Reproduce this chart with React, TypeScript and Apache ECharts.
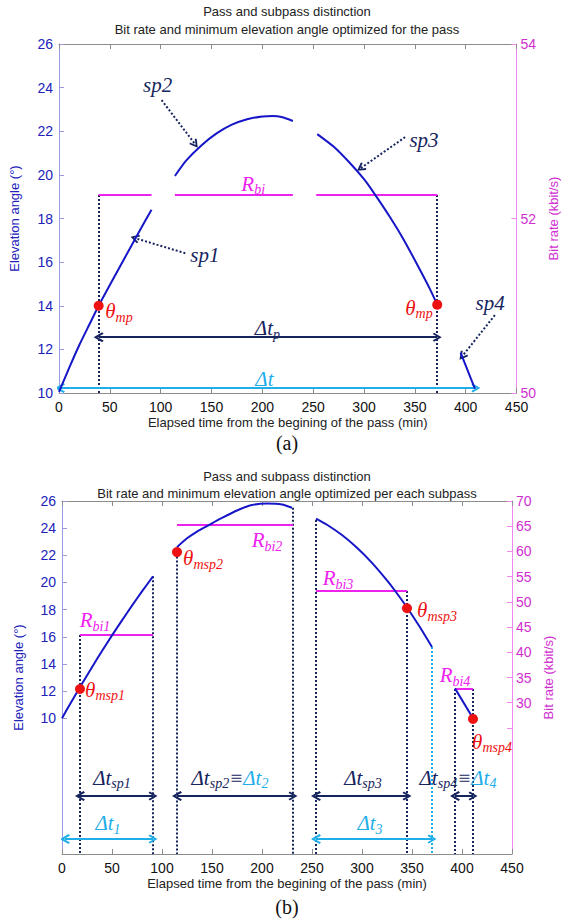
import React, { useEffect, useRef } from 'react';
import * as echarts from 'echarts';

// ---------- Panel (a): optimized for the pass ----------
const aSp1 = [[0, 10.05], [10, 11.15], [20, 12.2], [30, 13.15], [39, 14.0], [50, 14.95], [60, 15.8], [70, 16.65], [80, 17.5], [91, 18.4]];
const aSp2 = [[114, 19.95], [125, 20.65], [140, 21.35], [155, 21.9], [170, 22.3], [185, 22.55], [200, 22.68], [210, 22.7], [220, 22.64], [230, 22.47]];
const aSp3 = [[254, 21.87], [270, 21.3], [285, 20.6], [300, 19.8], [310, 19.15], [325, 18.1], [340, 16.95], [355, 15.65], [365, 14.75], [372, 14.05]];
const aSp4 = [[395, 11.85], [409, 10.2]];
const aRbiValue = 52.27;
const aRbiSegments = [[39, 91], [114, 230], [253, 372]];
const aThetaMp = [[39, 14.0], [372, 14.05]];
const aVerticals = [39, 372];
const aDeltaTp = [[39, 12.56], [372, 12.56]];
const aDeltaT = [[1, 10.23], [410, 10.23]];
const aPointers = [
  [[100.9, 23.43], [133.8, 21.41]],
  [[124.2, 16.41], [74.7, 17.1]],
  [[340.4, 21.73], [296.8, 20.31]],
  [[428.7, 13.57], [396.7, 11.69]],
];
const aLabels = [
  { at: [97, 24.12], text: '{n|sp2}' },
  { at: [143.5, 16.32], text: '{n|sp1}' },
  { at: [359, 21.6], text: '{n|sp3}' },
  { at: [424, 14.12], text: '{n|sp4}' },
  { at: [191, 19.6], text: '{m|R}{ms|bi}' },
  { at: [59, 13.75], text: '{r|θ}{rs|mp}' },
  { at: [354, 13.9], text: '{r|θ}{rs|mp}' },
  { at: [205, 12.97], text: '{n|Δt}{ns|p}' },
  { at: [202, 10.65], text: '{c|Δt}' },
];

// ---------- Panel (b): optimized per each subpass ----------
const bSp1 = [[0, 10.0], [10, 11.29], [20, 12.54], [30, 13.76], [40, 14.95], [50, 16.1], [60, 17.21], [70, 18.29], [80, 19.34], [91, 20.45]];
const bSp2 = [[115, 22.6], [125, 23.25], [135, 23.75], [145, 24.15], [160, 24.75], [175, 25.3], [190, 25.7], [205, 25.82], [220, 25.75], [230, 25.5]];
const bSp3 = [[254, 24.7], [265, 24.25], [280, 23.49], [295, 22.55], [310, 21.44], [325, 20.15], [333, 19.39], [345, 18.16], [358, 16.7], [370, 15.24]];
const bSp4 = [[393, 12.2], [411, 10.0]];
const bRbi = [[18, 91, 43.4], [115, 231, 65.2], [254, 345, 52.15], [393, 411, 32.7]];
const bTheta = [[18, 12.15], [115, 22.24], [345, 18.1], [411, 9.95]];
const bVerticalsNavy = [[18, 16.13], [91, 20.45], [115, 22.2], [231, 25.5], [254, 24.6], [345, 19.37], [393, 12.15], [411, 12.15]];
const bVerticalsCyan = [[370, 15.24]];
const bArrowsNavy = [[18, 91, 4.27], [115, 231, 4.27], [254, 345, 4.27], [393, 411, 4.27]];
const bArrowsCyan = [[3, 91, 1.1], [254, 370, 1.1]];
const bLabels = [
  { at: [33, 17.23], text: '{m|R}{ms|bi1}' },
  { at: [205, 23.12], text: '{m|R}{ms|bi2}' },
  { at: [276, 20.32], text: '{m|R}{ms|bi3}' },
  { at: [393, 13.18], text: '{m|R}{ms|bi4}' },
  { at: [43, 12.08], text: '{r|θ}{rs|msp1}' },
  { at: [141, 21.8], text: '{r|θ}{rs|msp2}' },
  { at: [375, 17.97], text: '{r|θ}{rs|msp3}' },
  { at: [430, 8.25], text: '{r|θ}{rs|msp4}' },
  { at: [50, 5.6], text: '{n|Δt}{ns|sp1}' },
  { at: [46, 2.28], text: '{c|Δt}{cs|1}' },
  { at: [168, 5.6], text: '{n|Δt}{ns|sp2}{n|≡}{c|Δt}{cs|2}' },
  { at: [301, 5.6], text: '{n|Δt}{ns|sp3}' },
  { at: [308, 2.28], text: '{c|Δt}{cs|3}' },
  { at: [396, 5.6], text: '{n|Δt}{ns|sp4}{n|≡}{c|Δt}{cs|4}' },
];

const bLeftTicks = [10, 12, 14, 16, 18, 20, 22, 24, 26];
const bRightTicks = [25, 30, 35, 40, 45, 50, 55, 60, 65, 70];
const bRightLabels = [30, 35, 40, 45, 50, 55, 60, 65, 70];

const SANS = '"Liberation Sans", Arial, sans-serif';
const SERIF = '"Liberation Serif", "Times New Roman", serif';
const BLUE = '#1616c8';
const NAVY = '#16245e';
const CYAN = '#1faee8';
const MAGENTA = '#ee22ee';
const RED = '#ee1111';
const AXBLUE = '#2222bb';
const AXMAG = '#d02fd0';

const CHEVRON = 'path://M5,0 L10,7 L8.4,8.2 L5,3.2 L1.6,8.2 L0,7 Z';

const tok = (color: string, size: number, lh: number, va: string) => ({
  fontFamily: SERIF, fontStyle: 'italic', fontSize: size, color, lineHeight: lh, verticalAlign: va,
  textBorderWidth: 0, textBorderColor: 'transparent', textShadowBlur: 0,
});
const rich = {
  n: tok(NAVY, 21, 26, 'middle'), ns: tok(NAVY, 14, 14, 'bottom'),
  c: tok(CYAN, 21, 26, 'middle'), cs: tok(CYAN, 14, 14, 'bottom'),
  m: tok(MAGENTA, 21, 26, 'middle'), ms: tok(MAGENTA, 14, 14, 'bottom'),
  r: tok(RED, 21, 26, 'middle'), rs: tok(RED, 14, 14, 'bottom'),
};

function xAxes(grid: number) {
  const line = { show: true, onZero: false, lineStyle: { color: '#8c8c8c', width: 1 } };
  return [
    {
      type: 'value', gridIndex: grid, min: 0, max: 450, interval: 50, position: 'bottom',
      axisLine: line, axisTick: { inside: true, length: 5, lineStyle: { color: '#8c8c8c' } },
      axisLabel: { color: '#111', fontSize: 14, fontFamily: SANS, margin: 7 },
      splitLine: { show: false },
      name: 'Elapsed time from the begining of the pass (min)', nameLocation: 'middle', nameGap: 23,
      nameTextStyle: { color: '#222', fontSize: 13, fontFamily: SANS },
    },
    {
      type: 'value', gridIndex: grid, min: 0, max: 450, interval: 50, position: 'top',
      axisLine: line, axisTick: { inside: true, length: 5, lineStyle: { color: '#8c8c8c' } },
      axisLabel: { show: false }, splitLine: { show: false },
    },
  ];
}

function curve(data: number[][], xi: number, yi: number) {
  return {
    type: 'line', xAxisIndex: xi, yAxisIndex: yi, data, smooth: 0.2, showSymbol: false, silent: true,
    lineStyle: { color: BLUE, width: 2 }, z: 5,
  };
}

function seg(coords: number[][][], xi: number, yi: number, color: string, type: string, width: number, symbol: any, z = 4) {
  return {
    type: 'lines', coordinateSystem: 'cartesian2d', xAxisIndex: xi, yAxisIndex: yi, silent: true,
    symbol, symbolSize: [10, 9], z,
    lineStyle: { color, type, width, opacity: 1, curveness: 0 },
    data: coords.map((c) => ({ coords: c })),
  };
}

function labels(items: { at: number[]; text: string }[], xi: number, yi: number) {
  return {
    type: 'scatter', xAxisIndex: xi, yAxisIndex: yi, symbolSize: 0, silent: true, z: 10,
    itemStyle: { opacity: 1, color: 'transparent' },
    data: items.map((it) => ({
      value: it.at,
      label: {
        show: true, position: 'inside', formatter: it.text, rich,
        textBorderWidth: 0, textBorderColor: 'transparent', color: NAVY,
      },
    })),
  };
}

function dots(data: number[][], xi: number, yi: number) {
  return {
    type: 'scatter', xAxisIndex: xi, yAxisIndex: yi, symbolSize: 10, silent: true, z: 8,
    itemStyle: { color: RED, opacity: 1 }, data,
  };
}

export default function App() {
  const ref = useRef<HTMLDivElement>(null);
  useEffect(() => {
    if (!ref.current) return;
    const chart = echarts.init(ref.current, null, { renderer: 'svg' });

    const leftName = {
      name: 'Elevation angle (°)', nameLocation: 'middle',
      nameTextStyle: { color: AXBLUE, fontSize: 13, fontFamily: SANS },
    };
    const rightName = {
      name: 'Bit rate (kbit/s)', nameLocation: 'middle',
      nameTextStyle: { color: AXMAG, fontSize: 13, fontFamily: SANS },
    };

    const series: any[] = [
      // ----- panel a -----
      curve(aSp1, 0, 0), curve(aSp2, 0, 0), curve(aSp3, 0, 0), curve(aSp4, 0, 0),
      seg(aRbiSegments.map((s) => [[s[0], aRbiValue], [s[1], aRbiValue]]), 0, 1, MAGENTA, 'solid', 2, ['none', 'none']),
      seg(aVerticals.map((t) => [[t, aRbiValue], [t, 50]]), 0, 1, NAVY, 'dotted', 2, ['none', 'none'], 3),
      seg([aDeltaTp], 0, 0, NAVY, 'solid', 2, [CHEVRON, CHEVRON]),
      seg([aDeltaT], 0, 0, CYAN, 'solid', 2, [CHEVRON, CHEVRON]),
      seg(aPointers, 0, 0, NAVY, 'dotted', 2, ['none', CHEVRON]),
      dots(aThetaMp, 0, 0),
      labels(aLabels, 0, 0),
      // ----- panel b -----
      curve(bSp1, 2, 2), curve(bSp2, 2, 2), curve(bSp3, 2, 2), curve(bSp4, 2, 2),
      seg(bRbi.map((s) => [[s[0], s[2]], [s[1], s[2]]]), 2, 3, MAGENTA, 'solid', 2, ['none', 'none']),
      seg(bVerticalsNavy.map((v) => [[v[0], v[1]], [v[0], 0]]), 2, 2, NAVY, 'dotted', 2, ['none', 'none'], 3),
      seg(bVerticalsCyan.map((v) => [[v[0], v[1]], [v[0], 0]]), 2, 2, CYAN, 'dotted', 2, ['none', 'none'], 3),
      seg(bArrowsNavy.map((a) => [[a[0], a[2]], [a[1], a[2]]]), 2, 2, NAVY, 'solid', 2, [CHEVRON, CHEVRON]),
      seg(bArrowsCyan.map((a) => [[a[0], a[2]], [a[1], a[2]]]), 2, 2, CYAN, 'solid', 2, [CHEVRON, CHEVRON]),
      dots(bTheta, 2, 2),
      labels(bLabels, 2, 2),
    ];

    chart.setOption({
      animation: false,
      backgroundColor: '#ffffff',
      grid: [
        { left: 55, top: 44, width: 464, height: 349 },
        { left: 62, top: 501, width: 450, height: 353 },
      ],
      xAxis: [...xAxes(0), ...xAxes(1)],
      yAxis: [
        {
          type: 'value', gridIndex: 0, min: 10, max: 26, interval: 2, position: 'left', ...leftName, nameGap: 38,
          axisLine: { show: true, onZero: false, lineStyle: { color: '#9a9ae0' } },
          axisTick: { inside: true, length: 5, lineStyle: { color: '#9a9ae0' } },
          axisLabel: { color: AXBLUE, fontSize: 14, fontFamily: SANS, margin: 6 },
          splitLine: { show: false },
        },
        {
          type: 'value', gridIndex: 0, min: 50, max: 54, interval: 2, position: 'right', ...rightName, nameGap: 29,
          axisLine: { show: true, onZero: false, lineStyle: { color: '#ee88ee' } },
          axisTick: { inside: true, length: 5, lineStyle: { color: '#ee88ee' } },
          axisLabel: { color: AXMAG, fontSize: 14, fontFamily: SANS, margin: 4 },
          splitLine: { show: false },
        },
        {
          type: 'value', gridIndex: 1, min: 0, max: 26, interval: 2, position: 'left', ...leftName, nameGap: 37,
          axisLine: { show: true, onZero: false, lineStyle: { color: '#9a9ae0' } },
          axisTick: { inside: true, length: 5, customValues: bLeftTicks, lineStyle: { color: '#9a9ae0' } },
          axisLabel: { color: AXBLUE, fontSize: 14, fontFamily: SANS, margin: 6, customValues: bLeftTicks },
          splitLine: { show: false },
        },
        {
          type: 'value', gridIndex: 1, min: 0, max: 70, interval: 5, position: 'right', ...rightName, nameGap: 29,
          axisLine: { show: true, onZero: false, lineStyle: { color: '#ee88ee' } },
          axisTick: { inside: true, length: 5, customValues: bRightTicks, lineStyle: { color: '#ee88ee' } },
          axisLabel: { color: AXMAG, fontSize: 14, fontFamily: SANS, margin: 4, customValues: bRightLabels },
          splitLine: { show: false },
        },
      ],
      graphic: [
        { type: 'text', x: 287, y: 11, style: { text: 'Pass and subpass distinction', align: 'center', verticalAlign: 'middle', font: `13px ${SANS}`, fill: '#222' } },
        { type: 'text', x: 287, y: 29, style: { text: 'Bit rate and minimum elevation angle optimized for the pass', align: 'center', verticalAlign: 'middle', font: `13px ${SANS}`, fill: '#222' } },
        { type: 'text', x: 287, y: 443, style: { text: '(a)', align: 'center', verticalAlign: 'middle', font: `20px ${SERIF}`, fill: '#111' } },
        { type: 'text', x: 287, y: 476, style: { text: 'Pass and subpass distinction', align: 'center', verticalAlign: 'middle', font: `13px ${SANS}`, fill: '#222' } },
        { type: 'text', x: 287, y: 493, style: { text: 'Bit rate and minimum elevation angle optimized per each subpass', align: 'center', verticalAlign: 'middle', font: `13px ${SANS}`, fill: '#222' } },
        { type: 'text', x: 287, y: 907, style: { text: '(b)', align: 'center', verticalAlign: 'middle', font: `20px ${SERIF}`, fill: '#111' } },
      ],
      series,
    });
    return () => chart.dispose();
  }, []);
  return <div ref={ref} style={{ position: 'absolute', left: 0, top: 0, width: 568, height: 922, background: '#fff' }} />;
}
